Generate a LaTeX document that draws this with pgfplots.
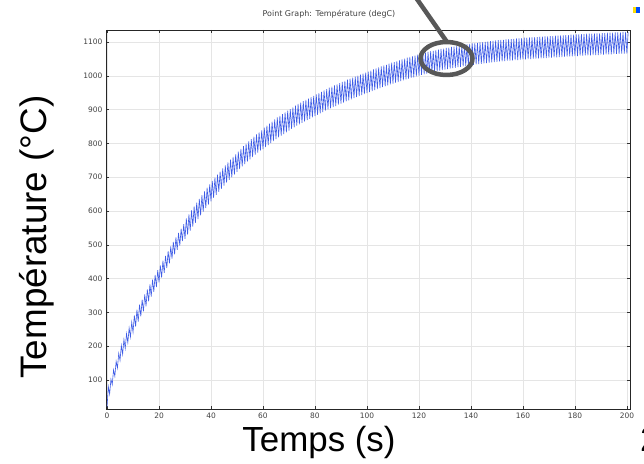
\documentclass[border=0pt]{standalone}
\usepackage{pgfplots}
\pgfplotsset{compat=1.18}
\usepackage{fontspec}
\setmainfont{Liberation Sans}
\newfontfamily\ticksfont{DejaVu Sans}
\definecolor{curve}{RGB}{62,92,230}
\definecolor{annot}{RGB}{88,88,88}
\begin{document}
\begin{tikzpicture}[x=1bp,y=1bp]
\useasboundingbox (-106,-55) rectangle (538,409);
\begin{axis}[
  at={(0,0)}, anchor=south west,
  scale only axis, width=524bp, height=379bp,
  xmin=-0.4, xmax=201.2, ymin=14, ymax=1136,
  xtick={0,20,...,200}, ytick={100,200,...,1100},
  grid=major, major grid style={color=black!10, line width=0.5pt},
  axis line style={black!85, line width=0.8pt},
  tick style={black!80, line width=0.5pt}, major tick length=3bp,
  tick label style={font=\ticksfont\fontsize{7.5}{8}\selectfont, text=black!75},
  /pgf/number format/assume math mode=true,
  /pgf/number format/1000 sep={},
]
% temperature at the probe point: trough / peak of each heating cycle
\addplot[curve, line width=0.6pt, no marks] coordinates {
(0,20) (0.5,80)
(1,58) (1.5,102) (2,86) (2.5,130) (3,111) (3.5,155) (4,135) (4.5,179)
(5,158) (5.5,202) (6,176) (6.5,220) (7,193) (7.5,237) (8,210) (8.5,254)
(9,227) (9.5,271) (10,241) (10.5,291) (11,258) (11.5,308) (12,273) (12.5,323)
(13,288) (13.5,338) (14,303) (14.5,353) (15,318) (15.5,368) (16,333) (16.5,383)
(17,347) (17.5,397) (18,361) (18.5,411) (19,375) (19.5,425) (20,389) (20.5,439)
(21,403) (21.5,453) (22,417) (22.5,467) (23,431) (23.5,481) (24,445) (24.5,495)
(25,459) (25.5,509) (26,472) (26.5,522) (27,485) (27.5,535) (28,498) (28.5,548)
(29,511) (29.5,561) (30,518) (30.5,578) (31,530) (31.5,590) (32,542) (32.5,602)
(33,554) (33.5,614) (34,565) (34.5,625) (35,576) (35.5,636) (36,587) (36.5,647)
(37,598) (37.5,658) (38,609) (38.5,669) (39,619) (39.5,679) (40,629) (40.5,689)
(41,639) (41.5,699) (42,648) (42.5,708) (43,657) (43.5,717) (44,666) (44.5,726)
(45,675) (45.5,735) (46,684) (46.5,744) (47,692) (47.5,752) (48,700) (48.5,760)
(49,708) (49.5,768) (50,716) (50.5,776) (51,724) (51.5,784) (52,732) (52.5,792)
(53,739) (53.5,799) (54,746) (54.5,806) (55,753) (55.5,813) (56,760) (56.5,820)
(57,767) (57.5,827) (58,773) (58.5,833) (59,779) (59.5,839) (60,783) (60.5,847)
(61,789) (61.5,853) (62,795) (62.5,859) (63,801) (63.5,865) (64,807) (64.5,871)
(65,813) (65.5,877) (66,818) (66.5,882) (67,823) (67.5,887) (68,828) (68.5,892)
(69,833) (69.5,897) (70,838) (70.5,902) (71,843) (71.5,907) (72,848) (72.5,912)
(73,853) (73.5,917) (74,857) (74.5,921) (75,861) (75.5,925) (76,865) (76.5,929)
(77,869) (77.5,933) (78,873) (78.5,937) (79,877) (79.5,941) (80,881) (80.5,945)
(81,885) (81.5,949) (82,889) (82.5,953) (83,893) (83.5,957) (84,897) (84.5,961)
(85,901) (85.5,965) (86,904) (86.5,968) (87,908) (87.5,972) (88,911) (88.5,975)
(89,915) (89.5,979) (90,918) (90.5,982) (91,921) (91.5,985) (92,925) (92.5,989)
(93,928) (93.5,992) (94,931) (94.5,995) (95,934) (95.5,998) (96,937) (96.5,1001)
(97,940) (97.5,1004) (98,943) (98.5,1007) (99,946) (99.5,1010) (100,949) (100.5,1013)
(101,952) (101.5,1016) (102,955) (102.5,1019) (103,958) (103.5,1022) (104,961) (104.5,1025)
(105,964) (105.5,1028) (106,967) (106.5,1031) (107,969) (107.5,1033) (108,972) (108.5,1036)
(109,975) (109.5,1039) (110,977) (110.5,1041) (111,980) (111.5,1044) (112,982) (112.5,1046)
(113,985) (113.5,1049) (114,987) (114.5,1051) (115,990) (115.5,1054) (116,992) (116.5,1056)
(117,994) (117.5,1058) (118,996) (118.5,1060) (119,999) (119.5,1063) (120,1001) (120.5,1065)
(121,1003) (121.5,1067) (122,1005) (122.5,1069) (123,1007) (123.5,1071) (124,1009) (124.5,1073)
(125,1010) (125.5,1074) (126,1012) (126.5,1076) (127,1014) (127.5,1078) (128,1016) (128.5,1080)
(129,1017) (129.5,1081) (130,1019) (130.5,1083) (131,1020) (131.5,1084) (132,1022) (132.5,1086)
(133,1023) (133.5,1087) (134,1024) (134.5,1088) (135,1026) (135.5,1090) (136,1027) (136.5,1091)
(137,1028) (137.5,1092) (138,1029) (138.5,1093) (139,1031) (139.5,1095) (140,1032) (140.5,1096)
(141,1033) (141.5,1097) (142,1034) (142.5,1098) (143,1035) (143.5,1099) (144,1036) (144.5,1100)
(145,1037) (145.5,1101) (146,1038) (146.5,1102) (147,1039) (147.5,1103) (148,1040) (148.5,1104)
(149,1041) (149.5,1105) (150,1042) (150.5,1106) (151,1043) (151.5,1107) (152,1043) (152.5,1107)
(153,1044) (153.5,1108) (154,1045) (154.5,1109) (155,1045) (155.5,1109) (156,1046) (156.5,1110)
(157,1047) (157.5,1111) (158,1047) (158.5,1111) (159,1048) (159.5,1112) (160,1049) (160.5,1113)
(161,1049) (161.5,1113) (162,1050) (162.5,1114) (163,1050) (163.5,1114) (164,1051) (164.5,1115)
(165,1051) (165.5,1115) (166,1052) (166.5,1116) (167,1052) (167.5,1116) (168,1053) (168.5,1117)
(169,1053) (169.5,1117) (170,1054) (170.5,1118) (171,1054) (171.5,1118) (172,1055) (172.5,1119)
(173,1055) (173.5,1119) (174,1056) (174.5,1120) (175,1056) (175.5,1120) (176,1057) (176.5,1121)
(177,1057) (177.5,1121) (178,1058) (178.5,1122) (179,1058) (179.5,1122) (180,1059) (180.5,1123)
(181,1059) (181.5,1123) (182,1060) (182.5,1124) (183,1060) (183.5,1124) (184,1061) (184.5,1125)
(185,1061) (185.5,1125) (186,1061) (186.5,1125) (187,1062) (187.5,1126) (188,1062) (188.5,1126)
(189,1062) (189.5,1126) (190,1063) (190.5,1127) (191,1063) (191.5,1127) (192,1064) (192.5,1128)
(193,1064) (193.5,1128) (194,1064) (194.5,1128) (195,1065) (195.5,1129) (196,1065) (196.5,1129)
(197,1065) (197.5,1129) (198,1066) (198.5,1130) (199,1066) (199.5,1130) (200,1066) (200.5,1130)
};
\end{axis}
% header and decorations
\node[font=\ticksfont\fontsize{8}{9}\selectfont, text=black!75] at (223,395) {Point Graph: Température (degC)};
\fill[blue!70!cyan] (527,396) rectangle (534,402);
\fill[yellow!80!orange] (527,396) rectangle (529.5,402);
% highlight annotation
\draw[annot, line width=4.5bp] (340.5,350.5) ellipse [x radius=26bp, y radius=16.5bp];
\draw[annot, line width=4.5bp] (306,417) -- (341,367);
% axis titles
\node[font=\fontsize{35}{40}\selectfont, anchor=base] at (213,-43) {Temps (s)};
\node[font=\fontsize{37}{42}\selectfont, rotate=90, inner sep=0] at (-69,172) {Température (°C)};
\node[font=\fontsize{35}{40}\selectfont, anchor=base west, inner sep=0] at (534,-43) {2};
\end{tikzpicture}
\end{document}
